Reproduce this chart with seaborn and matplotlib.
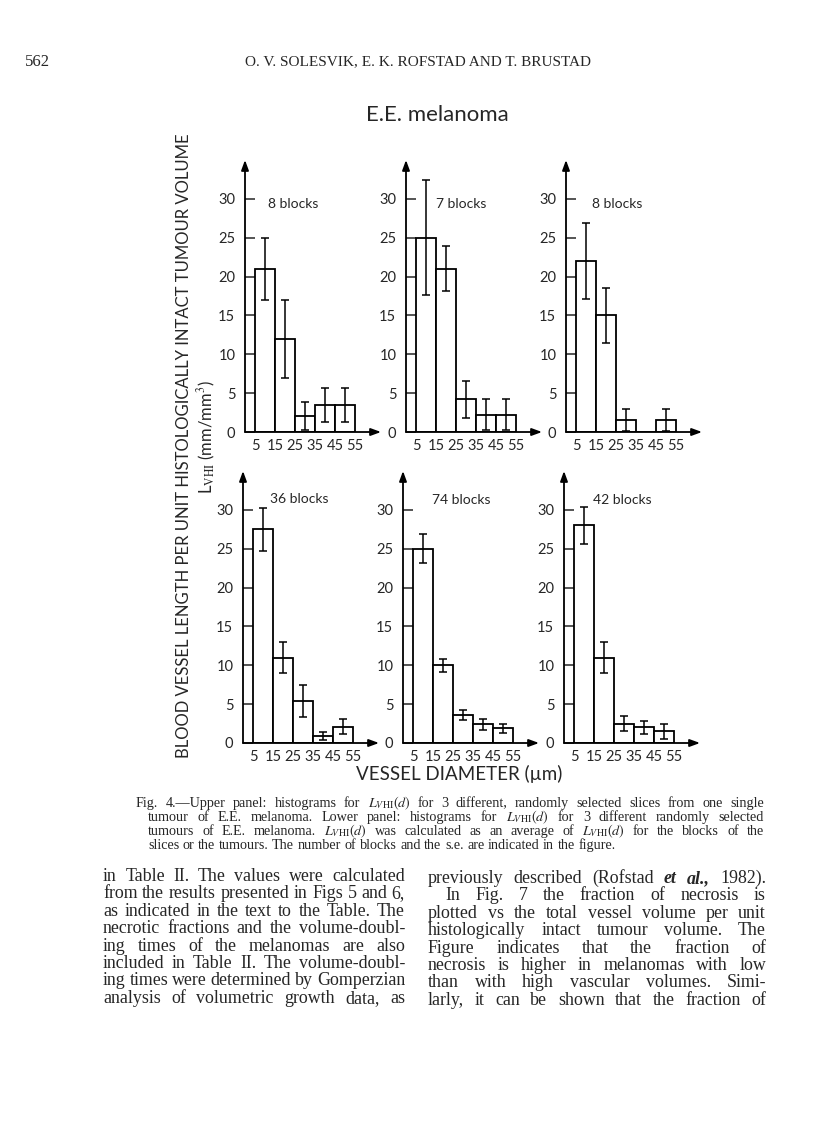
import matplotlib
matplotlib.use("Agg")
import matplotlib.pyplot as plt
import seaborn as sns

# vessel diameter classes (bin centres, um) and tick labels
diam = [10, 20, 30, 40, 50]
tick_pos = [5, 15, 25, 35, 45, 55]
tick_lab = ["5", "15", "25", "35", "45", "55"]

# upper panel: 3 slices from one tumour
slice1 = [21, 12, 2, 3.5, 3.5]
slice1_se = [4, 5, 1.8, 2.2, 2.2]
slice2 = [25, 21, 4.2, 2.2, 2.2]
slice2_se = [7.4, 2.9, 2.4, 2.0, 2.0]
slice3 = [22, 15, 1.5, 0, 1.5]
slice3_se = [4.9, 3.5, 1.4, 0, 1.4]

# lower panel: 3 tumours
tum1 = [27.5, 11, 5.4, 0.9, 2.1]
tum1_se = [2.8, 2.0, 2.0, 0.5, 1.0]
tum2 = [25, 10, 3.6, 2.4, 1.9]
tum2_se = [1.9, 0.8, 0.7, 0.7, 0.6]
tum3 = [28, 11, 2.5, 2.0, 1.5]
tum3_se = [2.4, 2.0, 1.0, 0.8, 1.0]

blocks = ["8 blocks", "7 blocks", "8 blocks", "36 blocks", "74 blocks", "42 blocks"]

sns.set_style("white")
plt.rcParams["font.family"] = ["Lato", "DejaVu Sans"]
plt.rcParams["mathtext.fontset"] = "stix"

W, H = 816, 1129
fig = plt.figure(figsize=(W / 100, H / 100), dpi=100)


def px(x, y):
    return x / W, 1 - y / H


series = [(slice1, slice1_se), (slice2, slice2_se), (slice3, slice3_se),
          (tum1, tum1_se), (tum2, tum2_se), (tum3, tum3_se)]
lefts = [245, 406, 566, 243, 403, 564]
bottoms = [432, 432, 432, 743, 743, 743]
label_xy = [(11.5, 28.8), (15, 28.8), (13, 28.8), (13.5, 30.9), (14.5, 30.8), (14.5, 30.8)]

for i, (vals, se) in enumerate(series):
    l, b = px(lefts[i], bottoms[i])
    ax = fig.add_axes([l, b, 136 / W, 272 / H])
    sns.barplot(x=diam, y=vals, native_scale=True, width=1, color="white",
                edgecolor="black", linewidth=1.3, errorbar=None, ax=ax)
    xs = [d for d, v in zip(diam, vals) if v > 0]
    ys = [v for v in vals if v > 0]
    es = [e for v, e in zip(vals, se) if v > 0]
    ax.errorbar(xs, ys, yerr=es, fmt="none", ecolor="black", elinewidth=1.1,
                capsize=3, capthick=1.1)
    ax.set_xlim(0, 68)
    ax.set_ylim(0, 35)
    for s in ax.spines.values():
        s.set_visible(False)
    ax.set_facecolor("none")
    ax.annotate("", xy=(1, 0), xytext=(0, 0), xycoords="axes fraction",
                arrowprops=dict(arrowstyle="-|>,head_length=0.6,head_width=0.22",
                                lw=1.3, color="black", shrinkA=0, shrinkB=0))
    ax.annotate("", xy=(0, 1), xytext=(0, 0), xycoords="axes fraction",
                arrowprops=dict(arrowstyle="-|>,head_length=0.6,head_width=0.22",
                                lw=1.3, color="black", shrinkA=0, shrinkB=0))
    ax.set_yticks([0, 5, 10, 15, 20, 25, 30])
    ax.set_xticks(tick_pos)
    ax.set_xticklabels(tick_lab)
    ax.tick_params(axis="y", direction="in", length=7, width=1.1, pad=7,
                   labelsize=10.5, left=True)
    ax.tick_params(axis="x", length=0, pad=5, labelsize=10.5)
    ax.set_xlabel("")
    ax.set_ylabel("")
    ax.text(label_xy[i][0], label_xy[i][1], blocks[i], fontsize=10)

# figure texts
fig.text(*px(437, 115), "E.E. melanoma", fontsize=16, ha="center", va="center")
fig.text(*px(184, 446), "BLOOD VESSEL LENGTH PER UNIT HISTOLOGICALLY INTACT TUMOUR VOLUME",
         fontsize=12, rotation=90, ha="center", va="center")
fig.text(*px(207, 437), r"L$_{\mathrm{VHI}}$ (mm/mm$^3$)", fontsize=12, rotation=90,
         ha="center", va="center")
fig.text(*px(459, 774), "VESSEL DIAMETER (µm)", fontsize=13.5, ha="center", va="center")

serif = ["Liberation Serif", "DejaVu Serif"]
fig.text(*px(25, 62), "562", fontsize=12, family=serif, va="center")
fig.text(*px(418, 62), "O. V. SOLESVIK, E. K. ROFSTAD AND T. BRUSTAD", fontsize=11,
         family=serif, ha="center", va="center")

renderer = fig.canvas.get_renderer()


def justify(line, x0, x1, y, size, last=False):
    words = line.split(" ")
    ts = []
    for w in words:
        kw = {}
        if w in ("et", "al.,"):
            kw = dict(style="italic", weight="bold")
        ts.append(fig.text(0, 0, w, fontsize=size, family=serif, va="baseline", **kw))
    widths = [t.get_window_extent(renderer).width for t in ts]
    space = size * 0.25 * 100 / 72
    gap = space if last or len(ts) < 2 else (x1 - x0 - sum(widths)) / (len(ts) - 1)
    x = x0
    for t, w in zip(ts, widths):
        t.set_position(px(x, y))
        x += w + gap


cap = [
    r"Fig. 4.—Upper panel: histograms for $L_{V\mathrm{HI}}(d)$ for 3 different, randomly selected slices from one single",
    r"tumour of E.E. melanoma. Lower panel: histograms for $L_{V\mathrm{HI}}(d)$ for 3 different randomly selected",
    r"tumours of E.E. melanoma. $L_{V\mathrm{HI}}(d)$ was calculated as an average of $L_{V\mathrm{HI}}(d)$ for the blocks of the",
    "slices or the tumours. The number of blocks and the s.e. are indicated in the figure.",
]
cap_y = [807, 821, 835, 849]
for k, line in enumerate(cap):
    x0 = 136 if k == 0 else 148
    justify(line, x0, 764, cap_y[k], 10.2, last=(k == 3))

left_col = [
    "in Table II. The values were calculated",
    "from the results presented in Figs 5 and 6,",
    "as indicated in the text to the Table. The",
    "necrotic fractions and the volume-doubl-",
    "ing times of the melanomas are also",
    "included in Table II. The volume-doubl-",
    "ing times were determined by Gomperzian",
    "analysis of volumetric growth data, as",
]
right_col = [
    "previously described (Rofstad et al., 1982).",
    "In Fig. 7 the fraction of necrosis is",
    "plotted vs the total vessel volume per unit",
    "histologically intact tumour volume. The",
    "Figure indicates that the fraction of",
    "necrosis is higher in melanomas with low",
    "than with high vascular volumes. Simi-",
    "larly, it can be shown that the fraction of",
]
for k, line in enumerate(left_col):
    justify(line, 103, 405, 881 + k * 17.4, 12.9)
for k, line in enumerate(right_col):
    justify(line, 445 if k == 1 else 428, 766, 883 + k * 17.4, 12.9)

fig.savefig("out.png", dpi=100, facecolor="white")
